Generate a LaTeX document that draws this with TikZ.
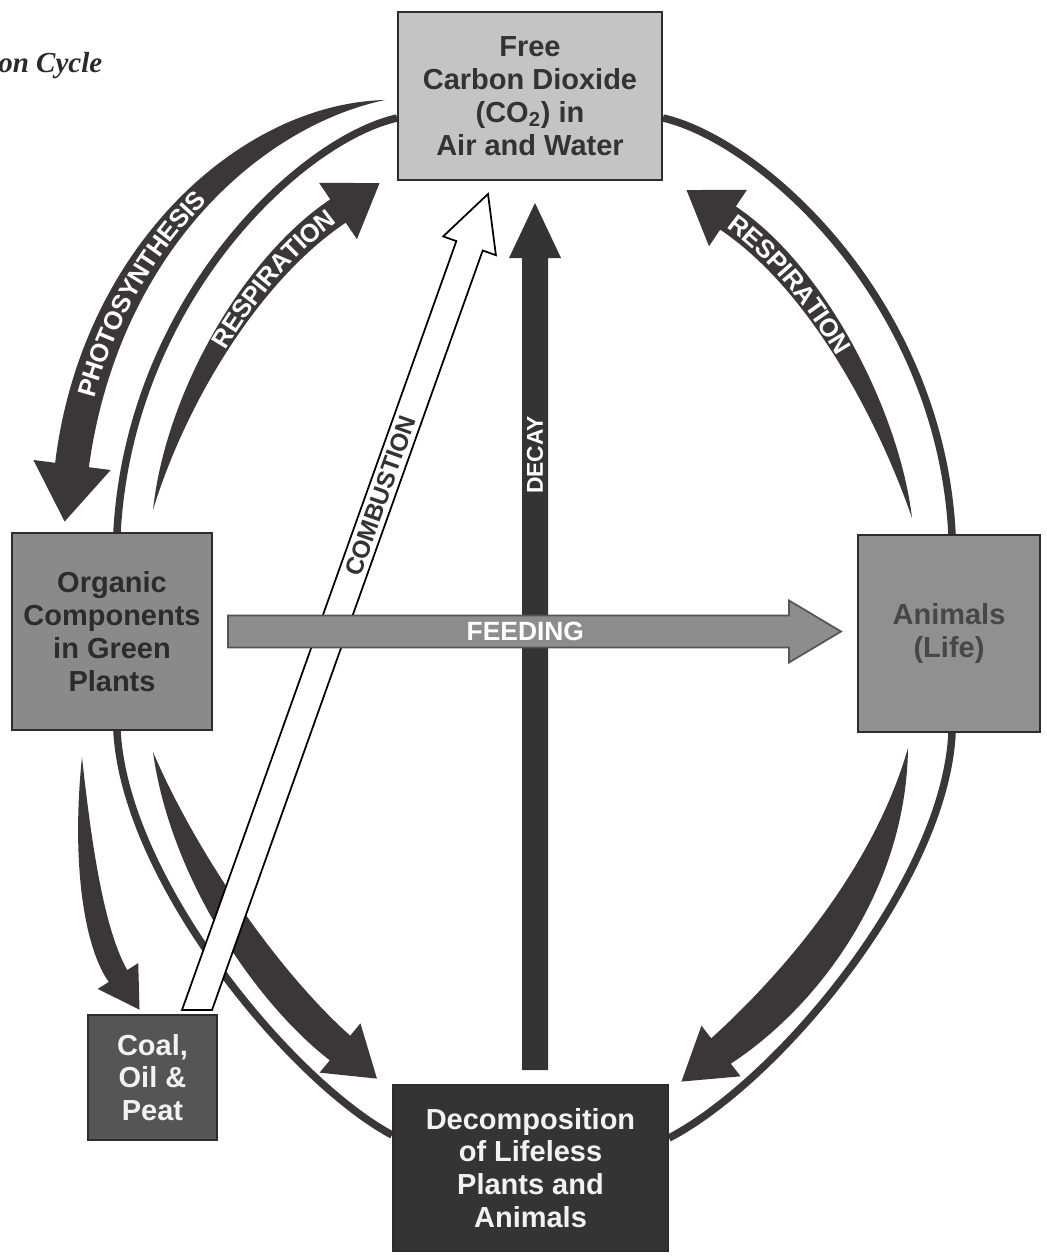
\documentclass[tikz,border=0pt]{standalone}
\usepackage{fontspec}
\setsansfont{Liberation Sans}
\newfontfamily\titleserif{Liberation Serif}
\usetikzlibrary{calc,decorations.text}
\pgfdeclarelayer{bg}
\pgfsetlayers{bg,main}

\definecolor{ink}{HTML}{3B3739}
\definecolor{boxline}{HTML}{2E2C2D}
\definecolor{co2fill}{HTML}{C4C4C4}
\definecolor{co2text}{HTML}{333333}
\definecolor{orgfill}{HTML}{8A8A8A}
\definecolor{orgtext}{HTML}{2C2C2C}
\definecolor{anifill}{HTML}{909090}
\definecolor{anitext}{HTML}{474747}
\definecolor{coalfill}{HTML}{555555}
\definecolor{decfill}{HTML}{343434}
\definecolor{lighttext}{HTML}{F2F2F2}
\definecolor{feedfill}{HTML}{8D8D8D}
\definecolor{feedline}{HTML}{555555}
\definecolor{titleink}{HTML}{2A2A2A}
\definecolor{combtext}{HTML}{333333}

\newcommand{\boxfont}{\sffamily\bfseries\fontsize{16.5}{18.7}\selectfont}
\newcommand{\swfont}{\color{white}\sffamily\bfseries\fontsize{14.5}{14.5}\selectfont}
\newcommand{\lblfont}{\sffamily\bfseries\fontsize{14}{14}\selectfont}

\tikzset{
  box/.style={draw=boxline, line width=0.04cm, font=\boxfont, align=center, inner sep=0pt},
  ring/.style={draw=ink, line width=0.15cm},
  swooshfill/.style={fill=ink},
  decayfill/.style={fill=decfill},
  combarrow/.style={fill=white, draw=black, line width=0.035cm, line join=miter},
  feedarrow/.style={fill=feedfill, draw=feedline, line width=0.035cm},
  swtext/.style={decorate, decoration={text along path, raise=-5.2pt, #1}},
}

% #1 tail, #2 ctrl1, #3 ctrl2, #4 head base, #5 half width, #6 head half width, #7 head length, #8 k1, #9 k2
\newcommand{\swoosh}[9]{%
  \coordinate (swL) at ($(#4)!#5!-90:(#3)$);
  \coordinate (swR) at ($(#4)!#5!90:(#3)$);
  \coordinate (swAL) at ($(#2)!{#8*#5}!90:(#3)$);
  \coordinate (swAR) at ($(#2)!{#8*#5}!-90:(#3)$);
  \coordinate (swBL) at ($(#3)!{#9*#5}!90:(#4)$);
  \coordinate (swBR) at ($(#3)!{#9*#5}!-90:(#4)$);
  \coordinate (swHL) at ($(#4)!#6!-90:(#3)$);
  \coordinate (swHR) at ($(#4)!#6!90:(#3)$);
  \coordinate (swTip) at ($(#4)!-#7!(#3)$);
  \fill[swooshfill] (#1) .. controls (swAL) and (swBL) .. (swL) -- (swHL) -- (swTip) -- (swHR) -- (swR) .. controls (swBR) and (swAR) .. (#1) -- cycle;
}

\begin{document}
\begin{tikzpicture}[x=0.02cm,y=-0.02cm]
\useasboundingbox (0,0) rectangle (1047,1257);

% ---- boxes
\node[box, fill=co2fill, text=co2text, minimum width=5.28cm, minimum height=3.36cm] (co2) at (530,96)
  {Free\\Carbon Dioxide\\(CO\textsubscript{2}) in\\Air and Water};
\node[box, fill=orgfill, text=orgtext, minimum width=4.0cm, minimum height=3.94cm] (org) at (112,631.5)
  {Organic\\Components\\in Green\\Plants};
\node[box, fill=anifill, text=anitext, minimum width=3.64cm, minimum height=3.94cm] (ani) at (949,633.5)
  {Animals\\(Life)};
\node[box, fill=coalfill, text=lighttext, minimum width=2.58cm, minimum height=2.5cm] (coal) at (152.5,1077.5)
  {Coal,\\Oil \&\\Peat};
\node[box, fill=decfill, text=lighttext, minimum width=5.5cm, minimum height=3.32cm] (dec) at (530.5,1168)
  {Decomposition\\of Lifeless\\Plants and\\Animals};

\node[anchor=base west, inner sep=0pt, font=\titleserif\bfseries\itshape\fontsize{16.5}{16.5}\selectfont, text=titleink] (title) at (-2,72) {on Cycle};

\begin{pgfonlayer}{bg}
\fill[white] (0,0) rectangle (1047,1257);
% ---- outer ring
\draw[ring] ([yshift=-0.44cm]co2.west) .. controls (300,140) and (130,300) .. ([xshift=0.1cm]org.north);
\draw[ring] ([yshift=-0.44cm]co2.east) .. controls (760,140) and (940,300) .. ([xshift=0.06cm]ani.north);
\draw[ring] ([xshift=0.1cm]org.south) .. controls (125,880) and (290,1080) .. ([yshift=0.66cm]dec.west);
\draw[ring] ([xshift=0.06cm]ani.south) .. controls (945,880) and (780,1080) .. ([yshift=0.6cm]dec.east);

% ---- curved arrows
\coordinate (psT) at (385,100); \coordinate (psA) at (250,115); \coordinate (psB) at (100,250); \coordinate (psE) at (72,465);
\swoosh{psT}{psA}{psB}{psE}{0.34cm}{0.78cm}{1.14cm}{0.9}{1.1}
\coordinate (rlT) at (153,510); \coordinate (rlA) at (175,400); \coordinate (rlB) at (250,270); \coordinate (rlE) at (338,211);
\swoosh{rlT}{rlA}{rlB}{rlE}{0.28cm}{0.68cm}{1.0cm}{0.8}{1.0}
\coordinate (rrT) at (912,518); \coordinate (rrA) at (890,420); \coordinate (rrB) at (820,280); \coordinate (rrE) at (728,218);
\swoosh{rrT}{rrA}{rrB}{rrE}{0.28cm}{0.68cm}{1.0cm}{0.8}{1.0}
\coordinate (ocT) at (82,757); \coordinate (ocA) at (82,860); \coordinate (ocB) at (95,940); \coordinate (ocE) at (118,976);
\swoosh{ocT}{ocA}{ocB}{ocE}{0.22cm}{0.48cm}{0.8cm}{1.0}{1.2}
\coordinate (odT) at (153,752); \coordinate (odA) at (185,870); \coordinate (odB) at (270,990); \coordinate (odE) at (340,1048);
\swoosh{odT}{odA}{odB}{odE}{0.32cm}{0.64cm}{0.96cm}{1.1}{1.2}
\coordinate (adT) at (908,748); \coordinate (adA) at (890,880); \coordinate (adB) at (800,990); \coordinate (adE) at (721,1051);
\swoosh{adT}{adA}{adB}{adE}{0.32cm}{0.64cm}{1.0cm}{1.3}{1.5}

% ---- labels on curved arrows
\path[swtext={text={|\swfont|PHOTOSYNTHESIS}, text align={left indent=1.4cm}}] (psE) .. controls (psB) and (psA) .. (psT);
\path[swtext={text={|\swfont|RESPIRATION}, text align={right, right indent=0.15cm}}] (rlT) .. controls (rlA) and (rlB) .. (rlE);
\path[swtext={text={|\swfont|RESPIRATION}, text align={left indent=0.1cm}}] (rrE) .. controls (rrB) and (rrA) .. (rrT);

% ---- decay
\coordinate (db) at (535,1070); \coordinate (dt) at (535,203);
\fill[decayfill] ($(db)+(-13,0)$) -- ($(dt)+(-13,55)$) -- ($(dt)+(-26,55)$) -- (dt) -- ($(dt)+(26,55)$) -- ($(dt)+(13,55)$) -- ($(db)+(13,0)$) -- cycle;
\node[rotate=90, font=\sffamily\bfseries\fontsize{13}{13}\selectfont, text=white] (decaylabel) at (535,455) {DECAY};

% ---- combustion
\coordinate (cb) at (197,1010); \coordinate (ct) at (488,194);
\coordinate (chb) at ($(ct)!1.1cm!(cb)$);
\filldraw[combarrow] ($(cb)+(-15,0)$) -- ($(chb)!0.28cm!90:(ct)$) -- ($(chb)!0.56cm!90:(ct)$) -- (ct)
  -- ($(chb)!0.56cm!-90:(ct)$) -- ($(chb)!0.28cm!-90:(ct)$) -- ($(cb)+(15,0)$) -- cycle;
\path (cb) -- (ct) node[pos=0.63, sloped, font=\lblfont, text=combtext] (comblabel) {COMBUSTION};

% ---- feeding
\coordinate (fs) at ([xshift=0.3cm]org.east);
\coordinate (fe0) at (fs -| ani.west);
\coordinate (fe) at ([xshift=-0.32cm]fe0);
\filldraw[feedarrow] ($(fs)+(0,-16)$) -- ($(fe)+(-52,-16)$) -- ($(fe)+(-52,-31)$) -- (fe) -- ($(fe)+(-52,31)$) -- ($(fe)+(-52,16)$) -- ($(fs)+(0,16)$) -- cycle;
\node[font=\sffamily\bfseries\fontsize{15}{15}\selectfont, text=white] (feedlabel) at ($(fs)!0.485!(fe)$) {FEEDING};
\end{pgfonlayer}
\end{tikzpicture}
\end{document}
